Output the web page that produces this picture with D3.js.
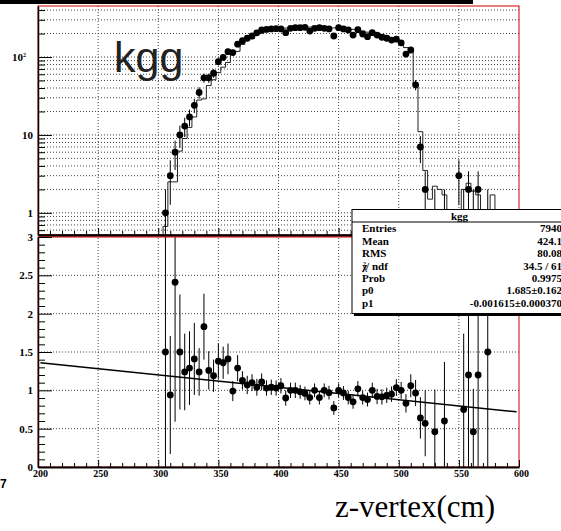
<!DOCTYPE html>
<html>
<head>
<meta charset="utf-8">
<script src="https://cdn.jsdelivr.net/npm/d3@7/dist/d3.min.js"></script>
<style>
	body { margin: 0; background: #fff; }
	svg { display: block; }
</style>
</head>
<body>
<svg id="plot" width="561" height="531"></svg>
<script>
// 100 bins of 4 cm from 200 to 600 cm
const bin_low = 200;
const bin_width = 4;

const data_counts = [
	0,0,0,0,0,0,0,0,0,0, 0,0,0,0,0,0,0,0,0,0, 0,0,0,0,0,0,
	1,3,6,10,13,17,24,35,54,54,
	62,87,99,117,114,146,162,174,186,204,
	222,226,229,231,229,205,233,238,238,240,
	215,233,238,233,229,186,238,229,222,191,
	224,197,182,205,191,179,174,165,169,152,
	109,123,44,7,2,0,1,0,1,0,
	0,3,1,2,1,2,0,1,0,0,
	0,0,0,0
];

const mc_counts = [
	0,0,0,0,0,0,0,0,0,0, 0,0,0,0,0,0,0,0,0,0, 0,0,0,0,0,0,
	0.67,2.5,2.5,6.2,9,12.5,17,28,29,43,
	51,63,74,85,112,118,145,163,172,195,
	202,218,222,226,230,235,238,240,243,245,
	242,240,244,240,238,236,238,236,232,226,
	222,216,208,205,202,195,186,175,165,150,
	132,128,45,11,3.5,1.5,2.2,2.0,1.7,0,
	0,0,2.0,2.4,1.9,1.7,0,0.67,1.7,0,
	0,0,0,0
];

// ratio points (lower pad)
const ratio_z = [
	306,310,314,318,322,326,330,334,338,342,
	346,350,354,358,362,366,370,374,378,382,
	386,390,394,398,402,406,410,414,418,422,
	426,430,434,438,442,446,450,454,458,462,
	466,470,474,478,482,486,490,494,498,502,
	506,510,514,518,522,
	530,538,554,558,562,566,574
];
const ratio_values = [
	1.50,0.94,2.41,1.50,1.24,1.29,1.41,1.24,1.83,1.26,
	1.19,1.38,1.36,1.41,0.99,1.29,1.13,1.07,1.10,1.04,
	1.11,1.03,1.04,1.03,1.06,0.90,1.00,1.00,0.98,0.96,
	0.905,1.00,0.905,1.00,0.97,0.77,1.00,0.965,0.905,0.85,
	1.02,0.905,0.88,1.00,0.92,0.915,0.935,0.95,1.035,1.00,
	0.83,1.06,0.965,0.64,0.57,
	0.46,0.60,0.75,1.20,0.46,1.20,1.50
];
const ratio_errors = [
	2.0,0.77,1.82,0.75,0.50,0.48,0.47,0.31,0.43,0.25,
	0.21,0.23,0.21,0.20,0.13,0.17,0.12,0.12,0.11,0.11,
	0.11,0.10,0.10,0.10,0.10,0.10,0.10,0.10,0.09,0.09,
	0.09,0.09,0.09,0.09,0.09,0.09,0.09,0.09,0.09,0.09,
	0.10,0.09,0.09,0.10,0.10,0.10,0.10,0.10,0.11,0.11,
	0.12,0.15,0.17,0.27,0.43,
	0.55,0.77,0.99,2.0,0.56,2.0,2.0
];

// pol1 fit of the ratio
const fit_p0 = 1.685;
const fit_p1 = -0.001615;
const fit_range = [202, 598];

const x_ticks_major = [200, 250, 300, 350, 400, 450, 500, 550, 600];
const top_y_major = [1, 10, 100];
const bot_y_major = [0, 0.5, 1, 1.5, 2, 2.5, 3];

const stats_labels = ["Entries", "Mean", "RMS", "chi2", "Prob", "p0", "p1"];
const stats_values = ["7940", "424.1", "80.08", "34.5 / 61", "0.9975", "1.685\u00b10.162", "-0.001615\u00b10.000370"];

const serif = '"Liberation Serif", "Times New Roman", serif';

const svg = d3.select('#plot');

const x = d3.scaleLinear().domain([200, 600]).range([38, 519]);
const y_top = d3.scaleLog().domain([0.52, 451]).range([235, 6]);
const y_bot = d3.scaleLinear().domain([0, 3]).range([467, 237]);
const y_min = y_top.domain()[0];

// black strip at the very top
svg.append('rect')
	.attr('x', 0).attr('y', 0)
	.attr('width', 473).attr('height', 4)
	.attr('fill', '#000');

const defs = svg.append('defs');
function addClip(id, ys) {
	defs.append('clipPath').attr('id', id)
		.append('rect')
		.attr('x', x.range()[0]).attr('y', ys[1])
		.attr('width', x.range()[1] - x.range()[0])
		.attr('height', ys[0] - ys[1]);
}
addClip('clip-top', y_top.range());
addClip('clip-bot', y_bot.range());

function gridLines(g, yscale, yvals) {
	const xs = x_ticks_major.slice(1, -1);
	const [yb, yt] = yscale.range();
	g.selectAll('.vgrid').data(xs).enter().append('line')
		.attr('x1', d => x(d)).attr('x2', d => x(d))
		.attr('y1', yb).attr('y2', yt);
	g.selectAll('.hgrid').data(yvals).enter().append('line')
		.attr('x1', x.range()[0]).attr('x2', x.range()[1])
		.attr('y1', d => yscale(d)).attr('y2', d => yscale(d));
	g.selectAll('line')
		.attr('stroke', '#444')
		.attr('stroke-width', 1)
		.attr('stroke-dasharray', '1,2');
}

// ---------- upper pad ----------
const top_g = svg.append('g');
gridLines(top_g.append('g'), y_top, y_top.ticks());

const plot_top = top_g.append('g').attr('clip-path', 'url(#clip-top)');

const hist_pts = mc_counts.map((v, k) => [bin_low + k * bin_width, v]);
hist_pts.push([bin_low + mc_counts.length * bin_width, mc_counts[mc_counts.length - 1]]);

plot_top.append('path')
	.datum(hist_pts)
	.attr('d', d3.line()
		.curve(d3.curveStepAfter)
		.x(d => x(d[0]))
		.y(d => y_top(Math.max(d[1], y_min))))
	.attr('fill', 'none')
	.attr('stroke', '#222')
	.attr('stroke-width', 1);

const data_pts = data_counts
	.map((v, k) => ({z: bin_low + (k + 0.5) * bin_width, v: v}))
	.filter(d => d.v > 0);

plot_top.selectAll('.err').data(data_pts).enter().append('line')
	.attr('x1', d => x(d.z)).attr('x2', d => x(d.z))
	.attr('y1', d => y_top(Math.max(d.v - Math.sqrt(d.v), y_min)))
	.attr('y2', d => y_top(d.v + Math.sqrt(d.v)))
	.attr('stroke', '#000').attr('stroke-width', 1);

plot_top.selectAll('.pt').data(data_pts).enter().append('circle')
	.attr('cx', d => x(d.z)).attr('cy', d => y_top(d.v))
	.attr('r', 3.4).attr('fill', '#000');

top_g.append('rect')
	.attr('x', x.range()[0]).attr('y', y_top.range()[1])
	.attr('width', x.range()[1] - x.range()[0])
	.attr('height', y_top.range()[0] - y_top.range()[1])
	.attr('fill', 'none').attr('stroke', '#d00000').attr('stroke-width', 1);

// left log axis
const top_minor = y_top.ticks().filter(d => top_y_major.indexOf(d) < 0);
top_g.append('g')
	.attr('transform', 'translate(' + x.range()[0] + ',0)')
	.call(d3.axisLeft(y_top).tickValues(top_minor).tickSize(-7).tickSizeOuter(0).tickFormat(''))
	.call(g => g.select('.domain').remove());

const top_axis = top_g.append('g')
	.attr('transform', 'translate(' + x.range()[0] + ',0)')
	.call(d3.axisLeft(y_top).tickValues(top_y_major).tickSize(-14).tickSizeOuter(0).tickPadding(5)
		.tickFormat(d => d === 100 ? '10' : String(d)));
top_axis.select('.domain').attr('stroke-width', 1.5);
top_axis.selectAll('text')
	.attr('font-family', serif).attr('font-weight', 'bold').attr('font-size', 11).attr('fill', '#000');
top_axis.selectAll('.tick').filter(d => d === 100).select('text')
	.attr('x', -12)
	.append('tspan').attr('dx', 0).attr('dy', -4).attr('font-size', 6).text('2');

// bottom axis of upper pad, ticks only
const x_minor = d3.range(200, 601, 10).filter(d => d % 50 !== 0);
top_g.append('g')
	.attr('transform', 'translate(0,' + y_top.range()[0] + ')')
	.call(d3.axisBottom(x).tickValues(x_minor).tickSize(-4).tickSizeOuter(0).tickFormat(''))
	.call(g => g.select('.domain').remove());
top_g.append('g')
	.attr('transform', 'translate(0,' + y_top.range()[0] + ')')
	.call(d3.axisBottom(x).tickValues(x_ticks_major).tickSize(-7).tickSizeOuter(0).tickFormat(''))
	.select('.domain').attr('stroke-width', 2.5);

// ---------- lower pad ----------
const bot_g = svg.append('g');
gridLines(bot_g.append('g'), y_bot, bot_y_major.slice(1, -1));

const plot_bot = bot_g.append('g').attr('clip-path', 'url(#clip-bot)');

const ratio_pts = ratio_z.map((z, i) => ({z: z, r: ratio_values[i], e: ratio_errors[i]}));

plot_bot.selectAll('.err').data(ratio_pts).enter().append('line')
	.attr('x1', d => x(d.z)).attr('x2', d => x(d.z))
	.attr('y1', d => y_bot(d.r - d.e)).attr('y2', d => y_bot(d.r + d.e))
	.attr('stroke', '#000').attr('stroke-width', 1);

plot_bot.selectAll('.pt').data(ratio_pts).enter().append('circle')
	.attr('cx', d => x(d.z)).attr('cy', d => y_bot(d.r))
	.attr('r', 3.4).attr('fill', '#000');

plot_bot.append('path')
	.datum(fit_range)
	.attr('d', d3.line().x(d => x(d)).y(d => y_bot(fit_p0 + fit_p1 * d)))
	.attr('fill', 'none').attr('stroke', '#000').attr('stroke-width', 1.5);

bot_g.append('rect')
	.attr('x', x.range()[0]).attr('y', y_bot.range()[1])
	.attr('width', x.range()[1] - x.range()[0])
	.attr('height', y_bot.range()[0] - y_bot.range()[1])
	.attr('fill', 'none').attr('stroke', '#d00000').attr('stroke-width', 1);

const bot_minor = d3.range(0, 31).map(d => d / 10).filter(d => Math.round(d * 10) % 5 !== 0);
bot_g.append('g')
	.attr('transform', 'translate(' + x.range()[0] + ',0)')
	.call(d3.axisLeft(y_bot).tickValues(bot_minor).tickSize(-7).tickSizeOuter(0).tickFormat(''))
	.call(g => g.select('.domain').remove());
const bot_axis = bot_g.append('g')
	.attr('transform', 'translate(' + x.range()[0] + ',0)')
	.call(d3.axisLeft(y_bot).tickValues(bot_y_major).tickSize(-14).tickSizeOuter(0).tickPadding(5)
		.tickFormat(d3.format('~g')));
bot_axis.select('.domain').attr('stroke-width', 1.5);
bot_axis.selectAll('text')
	.attr('font-family', serif).attr('font-weight', 'bold').attr('font-size', 11).attr('fill', '#000');

bot_g.append('g')
	.attr('transform', 'translate(0,' + y_bot.range()[0] + ')')
	.call(d3.axisBottom(x).tickValues(x_minor).tickSize(-4).tickSizeOuter(0).tickFormat(''))
	.call(g => g.select('.domain').remove());
const x_axis = bot_g.append('g')
	.attr('transform', 'translate(0,' + y_bot.range()[0] + ')')
	.call(d3.axisBottom(x).tickValues(x_ticks_major).tickSize(-7).tickSizeOuter(0).tickPadding(3));
x_axis.select('.domain').attr('stroke-width', 2);
x_axis.selectAll('text')
	.attr('dx', 2)
	.attr('font-family', serif).attr('font-weight', 'bold').attr('font-size', 10).attr('fill', '#000');

// ---------- stats box ----------
const box = svg.append('g');
box.append('rect')
	.attr('x', 354).attr('y', 212)
	.attr('width', 215).attr('height', 104)
	.attr('fill', '#000');
box.append('rect')
	.attr('x', 352).attr('y', 209.5)
	.attr('width', 215).attr('height', 104)
	.attr('fill', '#fff').attr('stroke', '#000').attr('stroke-width', 1);
box.append('line')
	.attr('x1', 352).attr('x2', 567)
	.attr('y1', 222).attr('y2', 222)
	.attr('stroke', '#000').attr('stroke-width', 1);
box.append('text')
	.attr('x', 459.5).attr('y', 220)
	.attr('text-anchor', 'middle')
	.attr('font-family', serif).attr('font-weight', 'bold').attr('font-size', 11)
	.text('kgg');

const row_y = [232, 244.5, 257, 269.5, 281.5, 294, 307];
stats_labels.forEach((lab, i) => {
	const t = box.append('text')
		.attr('x', 362).attr('y', row_y[i])
		.attr('font-family', serif).attr('font-weight', 'bold').attr('font-size', 11);
	if (lab === 'chi2') {
		t.append('tspan').text('\u03c7');
		t.append('tspan').attr('dx', -4).attr('dy', -4).attr('font-size', 6).text('2');
		t.append('tspan').attr('dy', 4).text('/ ndf');
	} else {
		t.text(lab);
	}
	box.append('text')
		.attr('x', 562).attr('y', row_y[i])
		.attr('text-anchor', 'end')
		.attr('font-family', serif).attr('font-weight', 'bold').attr('font-size', 11)
		.text(stats_values[i]);
});

// ---------- free labels ----------
svg.append('text')
	.attr('x', 114).attr('y', 72)
	.attr('font-family', '"Liberation Sans", Arial, sans-serif')
	.attr('font-size', 43).attr('fill', '#222')
	.text('kgg');

svg.append('text')
	.attr('x', 335).attr('y', 517)
	.attr('font-family', serif).attr('font-size', 31)
	.text('z-vertex(cm)');

svg.append('text')
	.attr('x', 0).attr('y', 488)
	.attr('font-family', '"Liberation Sans", Arial, sans-serif')
	.attr('font-weight', 'bold').attr('font-size', 12)
	.text('7');
</script>
</body>
</html>
